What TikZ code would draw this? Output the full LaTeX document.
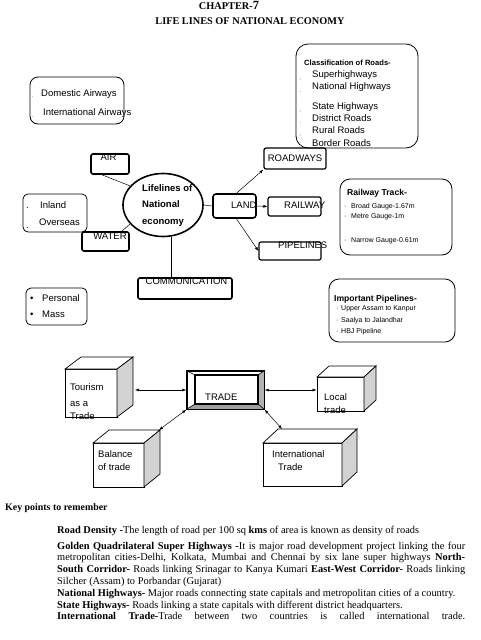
\documentclass[tikz,border=0pt]{standalone}
\usepackage{fontspec}
\setmainfont{Liberation Serif}
\setsansfont{Liberation Sans}
\usetikzlibrary{arrows.meta,shapes.geometric}

\begin{document}
\begin{tikzpicture}[x=1pt, y=-1pt,
  txt/.style={font=\sffamily\fontsize{9.5}{11}\selectfont, inner sep=0pt, anchor=base west},
  bold/.style={txt, font=\sffamily\bfseries\fontsize{9.5}{11}\selectfont},
  head/.style={txt, font=\sffamily\bfseries\fontsize{8.6}{10}\selectfont},
  small/.style={txt, font=\sffamily\fontsize{7}{8}\selectfont},
  dot/.style={txt, text=gray!60},
  thinbox/.style={draw, line width=0.8pt, inner sep=0pt},
  thickbox/.style={draw, line width=1.6pt, rounded corners=2pt, inner sep=0pt},
  conn/.style={line width=0.5pt},
  arr/.style={conn, -{Latex[length=4pt,width=3pt]}},
  twoway/.style={conn, {Latex[length=4pt,width=3pt]}-{Latex[length=4pt,width=3pt]}},
  front/.style={draw, fill=white, line width=0.7pt, inner sep=0pt},
  side/.style={draw, line width=0.7pt, fill=gray!35}]
\useasboundingbox (0,0) rectangle (480,640);

\node[font=\bfseries\fontsize{10.3}{12}\selectfont, anchor=base] (chap) at (229,9.5) {CHAPTER-{\fontsize{12.5}{12}\selectfont 7}};
\node[font=\bfseries\fontsize{10.3}{12}\selectfont, anchor=base] (title) at (250,24) {LIFE LINES OF NATIONAL ECONOMY};

% mind map
\node[thinbox, rounded corners=8pt, minimum width=94pt, minimum height=47pt] (airbox) at (77,100.5) {};
\node[txt] (dom) at (41,96) {Domestic Airways}; \node[dot] at (31,97) {.};
\node[txt] (intl) at (43,115) {International Airways}; \node[dot] at (31,117) {.};

\node[thinbox, rounded corners=12pt, minimum width=122pt, minimum height=104pt] (roadbox) at (357,96) {};
\node[head, font=\sffamily\bfseries\fontsize{7.6}{9}\selectfont] (clas) at (304,65) {Classification of Roads-};
\node[txt] (r1) at (312,77) {Superhighways}; \node[dot] at (299,80) {.};
\node[txt] (r2) at (312,89) {National Highways}; \node[dot] at (299,92) {.};
\node[txt] (r3) at (312,109.5) {State Highways}; \node[dot] at (299,112) {.};
\node[txt] (r4) at (312,121) {District Roads}; \node[dot] at (299,123) {.};
\node[txt] (r5) at (312,133) {Rural Roads}; \node[dot] at (299,136) {.};
\node[txt] (r6) at (312,146) {Border Roads}; \node[dot] at (299,146) {.};

\node[thickbox, minimum width=38pt, minimum height=20pt] (air) at (110,164) {};
\node[txt, anchor=base] at (108.5,160) {AIR};
\node[draw, ellipse, line width=1.6pt, minimum width=80pt, minimum height=63pt, inner sep=0pt] (eco) at (163,205) {};
\node[bold] at (142,191.5) {Lifelines of};
\node[bold] at (142,207.5) {National};
\node[bold] at (142,224) {economy};

\node[thinbox, rounded corners=5pt, minimum width=64pt, minimum height=38pt] (seabox) at (55,213) {};
\node[txt] (inland) at (40,208) {Inland}; \node[dot, text=black] at (26,208) {.};
\node[txt] (over) at (39,225.5) {Overseas}; \node[dot, text=black] at (26,228) {.};
\node[thickbox, minimum width=47pt, minimum height=19pt] (water) at (105.5,241.5) {};
\node[txt, anchor=base] at (110,239) {WATER};

\node[thickbox, rounded corners=3pt, minimum width=43pt, minimum height=24pt] (land) at (234.5,206) {};
\node[txt] at (231,208) {LAND};
\node[thickbox, line width=1.2pt, minimum width=62pt, minimum height=21pt] (roadways) at (295,158.5) {};
\node[txt, anchor=base] at (295,161) {ROADWAYS};
\node[thickbox, line width=1.2pt, minimum width=53pt, minimum height=19pt] (railway) at (294.5,206.5) {};
\node[txt] at (284,208) {RAILWAY};
\node[thickbox, line width=1.2pt, minimum width=62pt, minimum height=18pt] (pipelines) at (290,251) {};
\node[txt] at (278,248) {PIPELINES};

\node[thinbox, rounded corners=10pt, minimum width=112pt, minimum height=76pt] (trackbox) at (396,217) {};
\node[head] (track) at (347,195) {Railway Track-};
\node[small] at (344,208) {·}; \node[small] (g1) at (351,208) {Broad Gauge-1.67m};
\node[small] at (344,218.5) {·}; \node[small] (g2) at (351,218.5) {Metre Gauge-1m};
\node[small] at (344,242.5) {·}; \node[small] (g3) at (351,242.5) {Narrow Gauge-0.61m};

\node[thickbox, minimum width=94pt, minimum height=21pt] (comm) at (185,288.5) {};
\node[txt, anchor=base] at (186.5,284) {COMMUNICATION};

\node[thinbox, rounded corners=5pt, minimum width=61pt, minimum height=37pt] (persbox) at (56.5,306.5) {};
\node[txt] at (30,301) {•}; \node[txt] (pers) at (42,301) {Personal};
\node[txt] at (30,317.5) {•}; \node[txt] (mass) at (42,317.5) {Mass};

\node[thinbox, rounded corners=10pt, minimum width=126pt, minimum height=63pt] (pipebox) at (392,310.5) {};
\node[head] (imp) at (334,301) {Important Pipelines-};
\node[small] at (336,310.5) {·}; \node[small] (p1) at (341,310.5) {Upper Assam to Kanpur};
\node[small] at (336,322) {·}; \node[small] (p2) at (341,322) {Saalya to Jalandhar};
\node[small] at (336,333) {·}; \node[small] (p3) at (341,333) {HBJ Pipeline};

\draw[conn] ([xshift=-8pt]air.south) -- (eco.150);
\draw[conn] ([xshift=-8pt]water.north east) -- (eco.210);
\draw[conn] (eco.east) -- (land.west);
\draw[conn] (eco.-75) -- (eco.-75 |- comm.north);
\draw[arr] ([xshift=2pt]land.north) -- (roadways.south west);
\draw[arr] (land.east) -- (railway.west);
\draw[arr] ([xshift=2pt]land.south) -- (pipelines.west);

% trade
\node[draw, line width=1.4pt, minimum width=77pt, minimum height=38pt, inner sep=0pt] (trade) at (225.5,390) {};
\fill[gray!60] (258,375) -- (264,371) -- (264,409) -- (258,404) -- cycle;
\fill[gray!75] (195,404) -- (258,404) -- (264,409) -- (187,409) -- cycle;
\draw[line width=1.1pt] (195,375) rectangle (258,404);
\draw[line width=0.6pt] (187,371) -- (195,375) (264,371) -- (258,375) (187,409) -- (195,404) (264,409) -- (258,404);
\draw[line width=1.4pt] (trade.north west) rectangle (trade.south east);
\node[txt] at (205,400.5) {TRADE};

\node[front, minimum width=52pt, minimum height=48pt] (tourism) at (91,393) {};
\draw[front] (65,369) -- (81,357) -- (133,357) -- (117,369) -- cycle;
\draw[side] (117,369) -- (133,357) -- (133,405) -- (117,417) -- cycle;
\node[txt] at (70,390) {Tourism};
\node[txt] at (70,406) {as a};
\node[txt] at (70,419) {Trade};
\coordinate (tourR) at (135,389);

\node[front, minimum width=47pt, minimum height=34pt] (local) at (340.5,394) {};
\draw[front] (317,377) -- (329,366) -- (376,366) -- (364,377) -- cycle;
\draw[side] (364,377) -- (376,366) -- (376,400) -- (364,411) -- cycle;
\node[txt] at (324,400.5) {Local};
\node[txt] at (324,413) {trade};

\node[front, minimum width=51pt, minimum height=44pt] (balance) at (118.5,465) {};
\draw[front] (93,443) -- (109,430) -- (160,430) -- (144,443) -- cycle;
\draw[side] (144,443) -- (160,430) -- (160,474) -- (144,487) -- cycle;
\node[txt] at (98,457) {Balance};
\node[txt] at (98,470) {of trade};
\coordinate (balT) at (159,430);

\node[front, minimum width=79pt, minimum height=43pt] (intlcube) at (302.5,464.5) {};
\draw[front] (263,443) -- (278,429) -- (357,429) -- (342,443) -- cycle;
\draw[side] (342,443) -- (357,429) -- (357,472) -- (342,486) -- cycle;
\node[txt] at (272,457) {International};
\node[txt] at (278,470.5) {Trade};
\coordinate (intlT) at (282,429);

\draw[twoway] (trade.west) -- (trade.west -| tourR);
\draw[twoway] (trade.east) -- (trade.east -| local.west);
\draw[twoway] (trade.south west) -- (balT);
\draw[twoway] (trade.south east) -- (intlT);

% key points
\node[font=\bfseries\fontsize{9.9}{11}\selectfont, inner sep=0pt, anchor=base west] (key) at (5,510) {Key points to remember};
\node[text width=408pt, align=justify, inner sep=0pt, anchor=base west, font=\fontsize{10.4}{11.8}\selectfont] (notes) at (57,533) {\parindent=0pt
\textbf{Road Density -}The length of road per 100 sq \textbf{kms} of area is known as density of roads\par\vspace{4.2pt}
\textbf{Golden Quadrilateral Super Highways -}It is major road development project linking the four\linebreak
metropolitan cities-Delhi, Kolkata, Mumbai and Chennai by six lane super highways \textbf{North-}\linebreak
\textbf{South Corridor-} Roads linking Srinagar to Kanya Kumari \textbf{East-West Corridor-} Roads linking\linebreak
Silcher (Assam) to Porbandar (Gujarat)\par
\textbf{National Highways-} Major roads connecting state capitals and metropolitan cities of a country.\par
\textbf{State Highways-} Roads linking a state capitals with different district headquarters.\par
{\parfillskip=0pt \textbf{International Trade-}Trade between two countries is called international trade.\par}};
\end{tikzpicture}
\end{document}
